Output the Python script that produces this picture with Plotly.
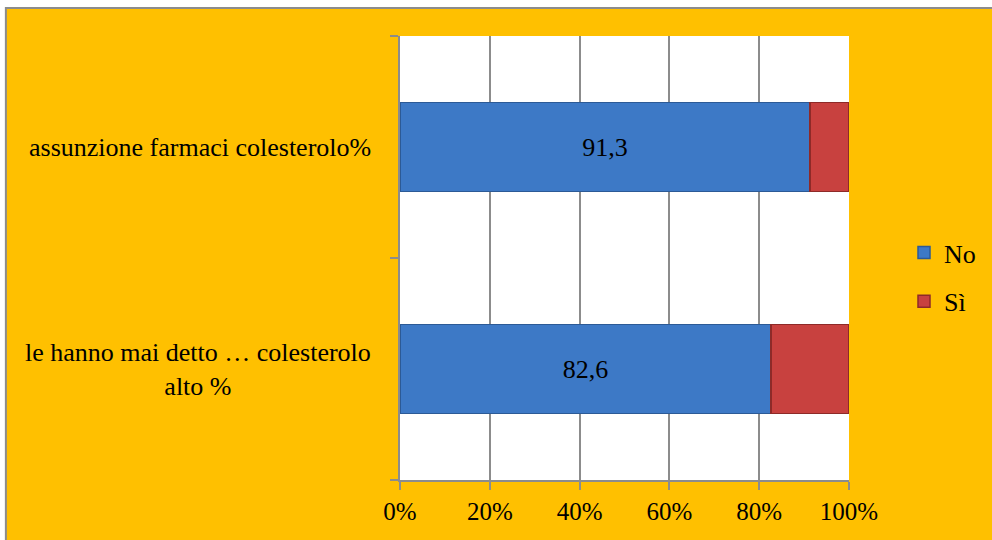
import plotly.graph_objects as go

categories = ["le hanno mai detto … colesterolo alto %", "assunzione farmaci colesterolo%"]
category_labels = ["le hanno mai detto … colesterolo<br>alto %", "assunzione farmaci colesterolo%"]
no_values = [82.6, 91.3]
si_values = [17.4, 8.7]
no_labels = ["82,6", "91,3"]
x_tickvals = [0, 20, 40, 60, 80, 100]
x_ticktext = ["0%", "20%", "40%", "60%", "80%", "100%"]

FONT = "Liberation Serif"
GRID = "#8c8c8c"
FS = 26

fig = go.Figure()
fig.add_trace(go.Bar(
    y=categories, x=no_values, orientation="h", name="No",
    marker=dict(color="#3D79C6", line=dict(color="#2C5A96", width=1.5)),
    text=no_labels, textposition="inside", insidetextanchor="middle",
    textfont=dict(family=FONT, size=FS, color="black"),
    legendgroup="no", hoverinfo="skip",
))
fig.add_trace(go.Bar(
    y=categories, x=si_values, orientation="h", name="Sì",
    marker=dict(color="#C8413F", line=dict(color="#8E2A28", width=1.5)),
    legendgroup="si", hoverinfo="skip",
))

for cat, lab in zip(categories, category_labels):
    fig.add_annotation(
        x=-0.06, xref="paper", xanchor="right",
        y=cat, yref="y", yanchor="middle",
        text=lab, align="center", showarrow=False,
        font=dict(family=FONT, size=FS, color="black"),
    )

fig.add_shape(
    type="rect", xref="paper", yref="paper",
    x0=-0.8778, x1=1.5, y0=-0.4, y1=1.0631,
    fillcolor="#FFC000", line=dict(color="#8c8c8c", width=2), layer="below",
)
fig.add_shape(
    type="rect", xref="paper", yref="paper",
    x0=0, x1=1, y0=0, y1=1,
    fillcolor="white", line=dict(width=0), layer="below",
)

fig.update_layout(
    width=992, height=540,
    margin=dict(l=400, r=142, t=36, b=60),
    paper_bgcolor="white", plot_bgcolor="white",
    barmode="stack", bargap=0.6,
    font=dict(family=FONT, size=FS, color="black"),
    showlegend=True,
    legend=dict(
        x=1.12, xanchor="left", y=0.457, yanchor="middle",
        bgcolor="rgba(0,0,0,0)", traceorder="grouped", tracegroupgap=12,
        font=dict(family=FONT, size=FS, color="black"),
    ),
    xaxis=dict(
        range=[0, 100], tickvals=x_tickvals, ticktext=x_ticktext,
        showgrid=True, gridcolor=GRID, gridwidth=1.5,
        showline=True, linecolor=GRID, linewidth=2,
        ticks="outside", ticklen=8, tickcolor=GRID, tickwidth=2,
        zeroline=False, fixedrange=True,
        tickfont=dict(family=FONT, size=25, color="black"),
    ),
    yaxis=dict(
        categoryorder="array", categoryarray=categories,
        showticklabels=False, tickson="boundaries",
        ticks="outside", ticklen=8, tickcolor=GRID, tickwidth=2,
        showline=True, linecolor=GRID, linewidth=2,
        showgrid=False, zeroline=False, fixedrange=True,
    ),
)

fig.write_html("out.html")
